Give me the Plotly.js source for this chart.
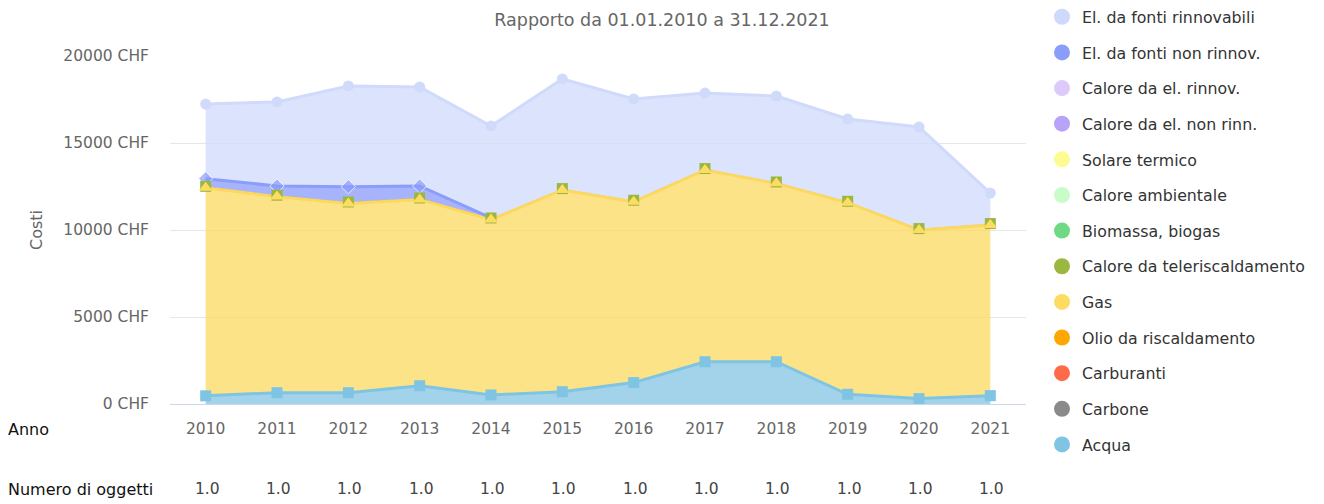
<!DOCTYPE html>
<html>
<head>
<meta charset="utf-8">
<script src="https://cdn.plot.ly/plotly-3.0.1.min.js"></script>
<style>html,body{margin:0;padding:0;background:#fff;}#chart{width:1324px;height:504px;}</style>
</head>
<body>
<div id="chart"></div>
<script>
// ---- data ----
const years = ['2010','2011','2012','2013','2014','2015','2016','2017','2018','2019','2020','2021'];
const objectCounts = ['1.0','1.0','1.0','1.0','1.0','1.0','1.0','1.0','1.0','1.0','1.0','1.0'];
const acqua = [470, 650, 650, 1050, 520, 710, 1230, 2430, 2430, 560, 310, 480];
const gas = [11960, 11270, 10880, 10710, 10090, 11590, 10400, 11020, 10250, 11010, 9690, 9810];
const teleriscaldamento = [80, 80, 80, 80, 80, 80, 80, 80, 80, 80, 80, 80];
const elNonRinnov = [440, 530, 880, 690, 0, 0, 0, 0, 0, 0, 0, 0];
const elRinnov = [4290, 4830, 5790, 5690, 5290, 6300, 5820, 4340, 4940, 4730, 5840, 1750];
const yTickVals = [0, 5000, 10000, 15000, 20000];
const yTickText = ['0 CHF', '5000 CHF', '10000 CHF', '15000 CHF', '20000 CHF'];
const legendNames = ['El. da fonti rinnovabili','El. da fonti non rinnov.','Calore da el. rinnov.','Calore da el. non rinn.','Solare termico','Calore ambientale','Biomassa, biogas','Calore da teleriscaldamento','Gas','Olio da riscaldamento','Carburanti','Carbone','Acqua'];
const legendColors = ['#cfd9fb','#8b9dfb','#dccbfa','#b9a3f9','#fdfc90','#c8fcc8','#70d983','#9ab73f','#fedc62','#fda700','#ff6a4b','#8a8a8a','#7fc4e3'];

const FONT = 'DejaVu Sans, Verdana, sans-serif';
const MS = 11;

// cumulative tops (stack order: acqua, gas, teleriscaldamento, elNonRinnov, elRinnov)
const topAcqua = acqua.slice();
const topGas = topAcqua.map((v, i) => v + gas[i]);
const topTele = topGas.map((v, i) => v + teleriscaldamento[i]);
const topElNon = topTele.map((v, i) => v + elNonRinnov[i]);
const topElRinn = topElNon.map((v, i) => v + elRinnov[i]);

const traces = [];
// stacked fills (+ lines)
traces.push({x: years, y: acqua, type: 'scatter', mode: 'lines', stackgroup: 'one',
  line: {color: '#7fc4e3', width: 3}, fillcolor: 'rgba(131,196,227,0.75)', showlegend: false, hoverinfo: 'skip'});
traces.push({x: years, y: gas, type: 'scatter', mode: 'lines', stackgroup: 'one',
  line: {color: '#fdd85c', width: 3}, fillcolor: 'rgba(252,218,96,0.75)', showlegend: false, hoverinfo: 'skip'});
traces.push({x: years, y: teleriscaldamento, type: 'scatter', mode: 'none', stackgroup: 'one',
  fillcolor: 'rgba(154,183,63,0.75)', showlegend: false, hoverinfo: 'skip'});
traces.push({x: years, y: elNonRinnov, type: 'scatter', mode: 'none', stackgroup: 'one',
  fillcolor: 'rgba(138,155,250,0.75)', showlegend: false, hoverinfo: 'skip'});
traces.push({x: years, y: elRinnov, type: 'scatter', mode: 'lines', stackgroup: 'one',
  line: {color: '#d0dafb', width: 3}, fillcolor: 'rgba(208,218,251,0.75)', showlegend: false, hoverinfo: 'skip'});

// markers & outlines drawn in the original series order (first series lowest)
traces.push({x: years, y: topElRinn, type: 'scatter', mode: 'markers',
  marker: {symbol: 'circle', size: MS, color: '#d0dafb'}, showlegend: false, hoverinfo: 'skip'});
const ox = [], oy = [], os = [];
for (let i = 0; i < years.length; i++) {
  if (elNonRinnov[i] > 0 || (i > 0 && elNonRinnov[i - 1] > 0)) {
    ox.push(years[i]); oy.push(topElNon[i]); os.push(elNonRinnov[i] > 0 ? MS : 0);
  }
}
traces.push({x: ox, y: oy, type: 'scatter', mode: 'lines+markers',
  line: {color: '#8b9dfb', width: 3}, marker: {symbol: 'diamond', size: os, color: '#8b9dfb'},
  showlegend: false, hoverinfo: 'skip'});
traces.push({x: years, y: topTele, type: 'scatter', mode: 'markers',
  marker: {symbol: 'square', size: MS, color: '#9ab73f'}, showlegend: false, hoverinfo: 'skip'});
traces.push({x: years, y: topGas, type: 'scatter', mode: 'markers',
  marker: {symbol: 'triangle-up', size: MS + 1, color: '#fedc62'}, showlegend: false, hoverinfo: 'skip'});
traces.push({x: years, y: topAcqua, type: 'scatter', mode: 'markers',
  marker: {symbol: 'square', size: MS, color: '#7fc4e3'}, showlegend: false, hoverinfo: 'skip'});

// legend entries
legendNames.forEach((n, i) => {
  traces.push({x: [null], y: [null], type: 'scatter', mode: 'markers', name: n,
    legendgroup: 'g' + i, marker: {symbol: 'circle', size: 16, color: legendColors[i]},
    hoverinfo: 'skip'});
});

const annotations = [
  {text: 'Costi', xref: 'paper', yref: 'paper', x: -0.1565, y: 0.5, textangle: -90, xanchor: 'center', yanchor: 'middle',
   showarrow: false, font: {family: FONT, size: 16, color: '#666'}},
  {text: 'Anno', xref: 'paper', yref: 'paper', x: -0.1916, y: -0.0747, xanchor: 'left', yanchor: 'middle',
   showarrow: false, font: {family: FONT, size: 16, color: '#111'}},
  {text: 'Numero di oggetti', xref: 'paper', yref: 'paper', x: -0.1916, y: -0.2443, xanchor: 'left', yanchor: 'middle',
   showarrow: false, font: {family: FONT, size: 16, color: '#111'}}
];
years.forEach((yr, i) => {
  annotations.push({text: objectCounts[i], xref: 'x', yref: 'paper', x: i, y: -0.2443, xshift: 1.5,
    xanchor: 'center', yanchor: 'middle', showarrow: false, font: {family: FONT, size: 15.5, color: '#444'}});
});

const layout = {
  width: 1324, height: 504,
  margin: {l: 170, r: 298, t: 56, b: 100},
  paper_bgcolor: '#fff', plot_bgcolor: '#fff',
  font: {family: FONT, color: '#666'},
  title: {text: 'Rapporto da 01.01.2010 a 31.12.2021', x: 0.5, xref: 'container', y: 1 - 20/504, yref: 'container',
    yanchor: 'middle', font: {family: FONT, size: 17.5, color: '#666'}},
  xaxis: {type: 'category', range: [-0.5, 11.5], showgrid: false, zeroline: false,
    showline: true, linecolor: '#ccd6eb', linewidth: 1, ticks: '',
    tickfont: {family: FONT, size: 15.5, color: '#666'}, ticklabelstandoff: 10, fixedrange: true},
  yaxis: {range: [0, 20000], tickmode: 'array', tickvals: yTickVals, ticktext: yTickText,
    showgrid: true, gridcolor: '#e6e6e6', gridwidth: 1, zeroline: false, showline: false, ticks: '',
    tickfont: {family: FONT, size: 15.5, color: '#666'}, ticklabelstandoff: 20, fixedrange: true},
  legend: {x: 1042 / 1324, xref: 'container', xanchor: 'left', y: 1, yref: 'container', yanchor: 'top',
    traceorder: 'grouped', tracegroupgap: 12.1, maxheight: 504,
    font: {family: FONT, size: 15.8, color: '#333'}, itemclick: false, itemdoubleclick: false},
  annotations: annotations,
  showlegend: true,
  hovermode: false
};

Plotly.newPlot('chart', traces, layout, {displayModeBar: false, staticPlot: true});
</script>
</body>
</html>
